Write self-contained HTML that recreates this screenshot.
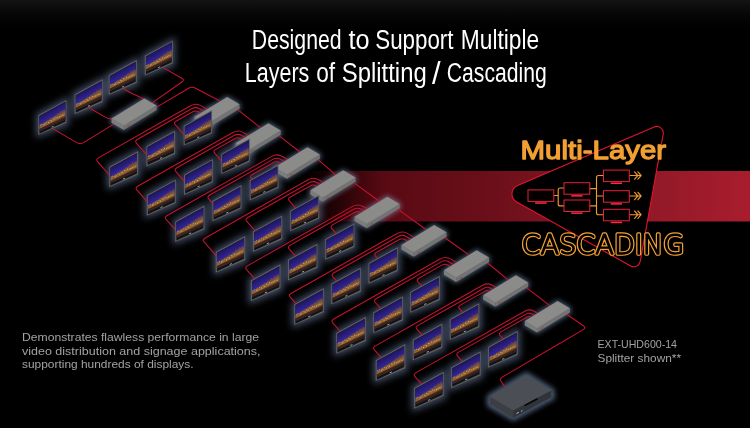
<!DOCTYPE html>
<html><head><meta charset="utf-8"><title>Multi-Layer Cascading</title>
<style>html,body{margin:0;padding:0;background:#000;}body{width:750px;height:428px;overflow:hidden}svg{display:block}</style>
</head><body>
<svg width="750" height="428" viewBox="0 0 750 428"><defs>
<linearGradient id="topg" x1="0" y1="0" x2="0" y2="1"><stop offset="0" stop-color="#131313"/><stop offset="0.3" stop-color="#0b0b0b"/><stop offset="0.6" stop-color="#050505"/><stop offset="1" stop-color="#000"/></linearGradient>
<linearGradient id="band" x1="0" y1="0" x2="1" y2="0">
<stop offset="0" stop-color="#56090f" stop-opacity="0"/>
<stop offset="0.045" stop-color="#56090f" stop-opacity="0.22"/>
<stop offset="0.10" stop-color="#56090f" stop-opacity="0.55"/>
<stop offset="0.18" stop-color="#580a13" stop-opacity="1"/>
<stop offset="0.42" stop-color="#6b0f1a"/>
<stop offset="0.73" stop-color="#8e1826"/>
<stop offset="1" stop-color="#a81d2e"/></linearGradient>
<linearGradient id="scr" gradientUnits="userSpaceOnUse" x1="-14" y1="8" x2="-4.4" y2="25.5">
<stop offset="0" stop-color="#1b1454"/><stop offset="0.35" stop-color="#2d218a"/><stop offset="0.62" stop-color="#3e30aa"/><stop offset="1" stop-color="#3e30aa"/></linearGradient>
<linearGradient id="city" gradientUnits="userSpaceOnUse" x1="-14" y1="8" x2="-4.4" y2="25.5">
<stop offset="0.36" stop-color="#4a3560"/><stop offset="0.50" stop-color="#7a523e"/><stop offset="0.62" stop-color="#98662e"/><stop offset="0.72" stop-color="#5c3a1f"/><stop offset="0.84" stop-color="#322012"/></linearGradient>
<linearGradient id="refl" gradientUnits="userSpaceOnUse" x1="-14" y1="8" x2="-4.4" y2="25.5">
<stop offset="0.74" stop-color="#3e2616"/><stop offset="0.84" stop-color="#2a1a12"/><stop offset="0.95" stop-color="#1b1210"/></linearGradient>
<filter id="gl" x="-20%" y="-20%" width="140%" height="140%"><feGaussianBlur stdDeviation="3.8"/></filter>
<filter id="gl2" x="-20%" y="-20%" width="140%" height="140%"><feGaussianBlur stdDeviation="2.8"/></filter>
<g id="dsp"><polygon points="-29.6,16.2 0,0 0,24.1 -29.6,37" fill="#5e5e5c"/><polygon points="-28.40,17.00 -1.10,2.00 -1.10,23.00 -28.40,35.60" fill="#121213"/><polygon points="-28.40,17.00 -1.10,2.00 -1.10,20.60 -28.40,32.80" fill="url(#scr)"/><polygon points="-28.40,27.43 -26.76,25.68 -25.12,25.37 -23.49,23.59 -21.57,23.15 -19.66,21.05 -18.03,20.91 -16.12,18.78 -14.20,18.52 -12.57,16.32 -10.93,16.20 -9.29,13.60 -7.65,14.03 -6.01,11.21 -4.65,11.97 -3.01,10.04 -1.10,10.37 -1.10,18.00 -28.40,30.59" fill="url(#city)"/><polygon points="-28.40,30.27 -1.10,17.62 -1.10,20.60 -28.40,32.80" fill="url(#refl)"/><rect x="-27.97" y="25.97" width="0.9" height="1.2" fill="#f0c878" opacity="0.61"/><rect x="-26.40" y="25.14" width="0.9" height="1.2" fill="#f0c878" opacity="0.61"/><rect x="-24.14" y="25.47" width="0.9" height="1.2" fill="#f0c878" opacity="0.76"/><rect x="-23.07" y="24.44" width="0.9" height="1.2" fill="#f0c878" opacity="0.56"/><rect x="-21.47" y="22.82" width="0.9" height="1.2" fill="#f0c878" opacity="0.54"/><rect x="-19.22" y="23.19" width="0.9" height="1.2" fill="#f0c878" opacity="0.77"/><rect x="-17.68" y="21.16" width="0.9" height="1.2" fill="#f0c878" opacity="0.57"/><rect x="-16.19" y="21.55" width="0.9" height="1.2" fill="#f0c878" opacity="0.79"/><rect x="-14.34" y="19.33" width="0.9" height="1.2" fill="#f0c878" opacity="0.69"/><rect x="-12.88" y="19.49" width="0.9" height="1.2" fill="#f0c878" opacity="0.52"/><rect x="-11.40" y="17.91" width="0.9" height="1.2" fill="#f0c878" opacity="0.82"/><rect x="-9.44" y="17.93" width="0.9" height="1.2" fill="#f0c878" opacity="0.57"/><rect x="-7.77" y="17.19" width="0.9" height="1.2" fill="#f0c878" opacity="0.80"/><rect x="-6.18" y="16.29" width="0.9" height="1.2" fill="#f0c878" opacity="0.62"/><rect x="-4.74" y="15.43" width="0.9" height="1.2" fill="#f0c878" opacity="0.51"/><rect x="-3.35" y="15.60" width="0.9" height="1.2" fill="#f0c878" opacity="0.47"/><path d="M-15.6,28.7 l2.2,-0.9" stroke="#c4c4c4" stroke-width="0.8"/></g>
<polygon id="dgl" points="-32,14.6 2.6,-3.8 2.6,26.8 -32,40.2"/>
</defs><rect width="750" height="428" fill="#000"/><rect width="750" height="28" fill="url(#topg)"/><rect x="302" y="171" width="448" height="50.5" fill="url(#band)"/><g filter="url(#gl)" fill="#7f95c2" opacity="0.5"><use href="#dgl" transform="translate(212.1,110.1) scale(0.96)"/><use href="#dgl" transform="translate(175.1,130.6) scale(0.968)"/><use href="#dgl" transform="translate(138.1,151.1) scale(0.976)"/><use href="#dgl" transform="translate(249.8,138.4) scale(0.965)"/><use href="#dgl" transform="translate(212.8,158.9) scale(0.973)"/><use href="#dgl" transform="translate(175.8,179.4) scale(0.981)"/><use href="#dgl" transform="translate(278.4,164.5) scale(0.97)"/><use href="#dgl" transform="translate(241.4,185.0) scale(0.978)"/><use href="#dgl" transform="translate(204.4,205.5) scale(0.986)"/><use href="#dgl" transform="translate(319.2,194.9) scale(0.98)"/><use href="#dgl" transform="translate(282.2,215.4) scale(0.988)"/><use href="#dgl" transform="translate(245.2,235.9) scale(0.996)"/><use href="#dgl" transform="translate(354.4,223.2) scale(0.985)"/><use href="#dgl" transform="translate(317.4,243.7) scale(0.993)"/><use href="#dgl" transform="translate(280.4,264.2) scale(1.0)"/><use href="#dgl" transform="translate(397.8,247.1) scale(0.99)"/><use href="#dgl" transform="translate(360.8,267.6) scale(0.998)"/><use href="#dgl" transform="translate(323.8,288.1) scale(1.0)"/><use href="#dgl" transform="translate(439.8,275.8) scale(1.0)"/><use href="#dgl" transform="translate(402.8,296.3) scale(1.0)"/><use href="#dgl" transform="translate(365.8,316.8) scale(1.0)"/><use href="#dgl" transform="translate(479.3,303.1) scale(1.0)"/><use href="#dgl" transform="translate(442.3,323.6) scale(1.0)"/><use href="#dgl" transform="translate(405.3,344.1) scale(1.0)"/><use href="#dgl" transform="translate(517.7,330.7) scale(1.0)"/><use href="#dgl" transform="translate(480.7,351.2) scale(1.0)"/><use href="#dgl" transform="translate(443.7,371.7) scale(1.0)"/><use href="#dgl" transform="translate(66.4,99.9) scale(0.95)"/><use href="#dgl" transform="translate(102.7,79.0) scale(0.95)"/><use href="#dgl" transform="translate(136.8,59.8) scale(0.95)"/><use href="#dgl" transform="translate(172.9,40.4) scale(0.95)"/></g><g filter="url(#gl2)" fill="#93b2e2" stroke="#93b2e2" stroke-width="2.5" stroke-linejoin="round" opacity="0.5"><polygon points="144.3,98.4 156.6,105.6 156.6,110.0 123.8,130.0 111.5,122.8 111.5,118.4" /><polygon points="227.2,97.1 239.5,104.3 239.5,108.7 206.7,128.7 194.4,121.5 194.4,117.1" /><polygon points="268.4,123.2 280.7,130.4 280.7,134.8 247.9,154.8 235.6,147.6 235.6,143.2" /><polygon points="307.5,147.2 319.8,154.4 319.8,158.8 287.0,178.8 274.7,171.6 274.7,167.2" /><polygon points="343.2,170.2 355.5,177.4 355.5,181.8 322.7,201.8 310.4,194.6 310.4,190.2" /><polygon points="387.3,196.7 399.6,203.9 399.6,208.3 366.8,228.3 354.5,221.1 354.5,216.7" /><polygon points="434.2,225.1 446.5,232.3 446.5,236.7 413.7,256.7 401.4,249.5 401.4,245.1" /><polygon points="476.7,250.3 489.0,257.5 489.0,261.9 456.2,281.9 443.9,274.7 443.9,270.3" /><polygon points="515.9,275.2 528.2,282.4 528.2,286.8 495.4,306.8 483.1,299.6 483.1,295.2" /><polygon points="557.6,301.0 569.9,308.2 569.9,312.6 537.1,332.6 524.8,325.4 524.8,321.0" /><polygon points="488.0,396.0 526.3,373.0 553.5,390.0 553.5,398.5 513.2,420.0 488.0,405.5" /></g><g fill="none" stroke="#c51230" stroke-width="1.08" stroke-linecap="round"><path d="M201.9,114.1L198.0,111.8Q195.4,110.2 192.8,111.7L176.0,121.2Q173.4,122.7 175.4,124.9L187.0,138.0"/><path d="M205.2,112.1L199.6,108.8Q195.7,106.5 191.7,108.7L137.2,139.5Q134.5,141.0 136.5,143.3L150.0,158.5"/><path d="M208.5,110.1L201.3,105.9Q196.0,102.7 190.6,105.8L98.3,157.9Q95.7,159.4 97.6,161.6L113.0,179.0"/><path d="M243.1,140.2L240.3,138.5Q237.7,137.0 235.1,138.5L215.4,149.6Q212.8,151.1 214.8,153.3L224.5,164.4"/><path d="M246.4,138.2L242.0,135.6Q238.0,133.2 234.0,135.5L176.5,168.0Q173.9,169.5 175.9,171.7L187.5,184.9"/><path d="M249.7,136.2L243.6,132.6Q238.3,129.5 232.9,132.5L137.6,186.3Q135.0,187.8 137.0,190.1L150.5,205.4"/><path d="M282.2,164.2L279.2,162.4Q276.6,160.8 274.0,162.3L252.0,174.7Q249.4,176.2 251.4,178.4L255.7,183.3"/><path d="M285.5,162.2L280.8,159.4Q276.8,157.1 272.8,159.4L209.4,195.2Q206.8,196.7 208.8,198.9L215.9,207.0"/><path d="M288.8,160.2L282.5,156.5Q277.1,153.3 271.7,156.4L166.8,215.7Q164.2,217.2 166.1,219.4L176.1,230.7"/><path d="M317.9,187.2L315.4,185.7Q313.0,184.3 310.5,185.7L290.0,197.2Q287.4,198.7 289.4,200.9L297.7,210.4"/><path d="M321.2,185.2L317.2,182.8Q313.2,180.5 309.2,182.8L247.4,217.7Q244.8,219.2 246.8,221.4L257.9,234.1"/><path d="M324.5,183.2L318.9,179.9Q313.5,176.7 308.1,179.8L204.8,238.2Q202.1,239.7 204.1,241.9L218.1,257.8"/><path d="M362.0,213.7L359.7,212.3Q357.3,210.9 355.0,212.2L332.5,224.9Q329.9,226.4 331.9,228.6L338.3,235.9"/><path d="M365.3,211.7L361.5,209.4Q357.6,207.1 353.7,209.3L289.9,245.4Q287.3,246.9 289.3,249.1L298.5,259.6"/><path d="M368.6,209.7L363.2,206.5Q357.9,203.4 352.5,206.4L247.3,265.9Q244.7,267.4 246.6,269.6L258.7,283.3"/><path d="M408.9,242.1L404.6,239.5Q402.0,238.0 399.4,239.5L376.2,252.5Q373.6,254.0 375.6,256.3L381.1,262.5"/><path d="M412.2,240.1L406.2,236.5Q402.2,234.2 398.2,236.5L333.6,273.0Q331.0,274.5 332.9,276.8L341.3,286.2"/><path d="M415.5,238.1L407.9,233.6Q402.5,230.5 397.1,233.5L290.9,293.5Q288.3,295.0 290.3,297.2L301.5,309.9"/><path d="M451.4,267.3L447.5,265.0Q444.9,263.4 442.3,264.9L418.7,278.2Q416.1,279.7 418.1,282.0L423.9,288.6"/><path d="M454.7,265.3L449.1,262.0Q445.2,259.7 441.2,261.9L376.1,298.7Q373.4,300.2 375.4,302.5L384.1,312.3"/><path d="M458.0,263.3L450.8,259.1Q445.5,255.9 440.1,259.0L333.4,319.2Q330.8,320.7 332.8,322.9L344.3,336.0"/><path d="M490.6,292.2L488.8,291.1Q487.0,290.0 485.1,291.1L460.3,305.1Q457.6,306.6 459.6,308.8L464.8,314.7"/><path d="M493.9,290.2L490.6,288.2Q487.2,286.3 483.9,288.2L417.6,325.6Q415.0,327.1 417.0,329.3L425.0,338.4"/><path d="M497.2,288.2L492.4,285.3Q487.5,282.5 482.6,285.3L375.0,346.1Q372.4,347.6 374.4,349.8L385.2,362.1"/><path d="M532.3,318.0L530.7,317.0Q529.0,316.0 527.3,317.0L500.9,331.9Q498.3,333.4 500.3,335.6L505.7,341.8"/><path d="M535.6,316.0L532.4,314.1Q529.3,312.3 526.1,314.1L458.3,352.4Q455.7,353.9 457.6,356.1L465.9,365.5"/><path d="M538.9,314.0L534.2,311.2Q529.6,308.5 524.9,311.2L415.6,372.9Q413.0,374.4 415.0,376.6L426.1,389.2"/><path d="M53.2,128.9L76.7,142.6Q80.1,144.7 83.6,142.6L115.8,122.9"/><path d="M89.5,108.0L105.6,117.4Q107.7,118.7 110.1,118.8L112.5,118.9"/><path d="M123.6,88.8L127.9,91.3Q130.5,92.8 133.2,94.1L147.3,100.4"/><path d="M162.3,67.1L181.8,78.3Q184.8,80.0 181.9,82.0L152.5,102.6"/><path d="M238.0,109.8L261.9,128.8"/><path d="M279.2,135.9L301.0,152.8"/><path d="M318.3,159.9L336.7,175.8"/><path d="M354.0,182.9L380.8,202.3"/><path d="M398.1,209.4L427.7,230.7"/><path d="M445.0,237.8L470.2,255.9"/><path d="M487.5,263.0L509.4,280.8"/><path d="M526.7,287.9L551.1,306.6"/><path d="M156.3,107.4L188.6,88.3Q192.0,86.3 195.5,88.2L219.5,100.8"/><path d="M567.4,314.7L583.4,325.8Q586.3,327.8 583.3,329.6L502.3,377.1Q499.3,378.9 501.3,381.8L505.3,387.5"/></g><polygon points="111.5,118.4 123.8,125.6 123.8,130.0 111.5,122.8" fill="#7d7d7b"/><polygon points="123.8,125.6 156.6,105.6 156.6,110.0 123.8,130.0" fill="#737371"/><polygon points="144.3,98.4 156.6,105.6 123.8,125.6 111.5,118.4" fill="#8b8b89"/><path d="M126.8,126.9l3.4,-2" stroke="#a03838" stroke-width="0.7"/><polygon points="194.4,117.1 206.7,124.3 206.7,128.7 194.4,121.5" fill="#7d7d7b"/><polygon points="206.7,124.3 239.5,104.3 239.5,108.7 206.7,128.7" fill="#737371"/><polygon points="227.2,97.1 239.5,104.3 206.7,124.3 194.4,117.1" fill="#8b8b89"/><path d="M209.7,125.6l3.4,-2" stroke="#a03838" stroke-width="0.7"/><polygon points="235.6,143.2 247.9,150.4 247.9,154.8 235.6,147.6" fill="#7d7d7b"/><polygon points="247.9,150.4 280.7,130.4 280.7,134.8 247.9,154.8" fill="#737371"/><polygon points="268.4,123.2 280.7,130.4 247.9,150.4 235.6,143.2" fill="#8b8b89"/><path d="M250.9,151.7l3.4,-2" stroke="#a03838" stroke-width="0.7"/><polygon points="274.7,167.2 287.0,174.4 287.0,178.8 274.7,171.6" fill="#7d7d7b"/><polygon points="287.0,174.4 319.8,154.4 319.8,158.8 287.0,178.8" fill="#737371"/><polygon points="307.5,147.2 319.8,154.4 287.0,174.4 274.7,167.2" fill="#8b8b89"/><path d="M290.0,175.7l3.4,-2" stroke="#a03838" stroke-width="0.7"/><polygon points="310.4,190.2 322.7,197.4 322.7,201.8 310.4,194.6" fill="#7d7d7b"/><polygon points="322.7,197.4 355.5,177.4 355.5,181.8 322.7,201.8" fill="#737371"/><polygon points="343.2,170.2 355.5,177.4 322.7,197.4 310.4,190.2" fill="#8b8b89"/><path d="M325.7,198.7l3.4,-2" stroke="#a03838" stroke-width="0.7"/><polygon points="354.5,216.7 366.8,223.9 366.8,228.3 354.5,221.1" fill="#7d7d7b"/><polygon points="366.8,223.9 399.6,203.9 399.6,208.3 366.8,228.3" fill="#737371"/><polygon points="387.3,196.7 399.6,203.9 366.8,223.9 354.5,216.7" fill="#8b8b89"/><path d="M369.8,225.2l3.4,-2" stroke="#a03838" stroke-width="0.7"/><polygon points="401.4,245.1 413.7,252.3 413.7,256.7 401.4,249.5" fill="#7d7d7b"/><polygon points="413.7,252.3 446.5,232.3 446.5,236.7 413.7,256.7" fill="#737371"/><polygon points="434.2,225.1 446.5,232.3 413.7,252.3 401.4,245.1" fill="#8b8b89"/><path d="M416.7,253.6l3.4,-2" stroke="#a03838" stroke-width="0.7"/><polygon points="443.9,270.3 456.2,277.5 456.2,281.9 443.9,274.7" fill="#7d7d7b"/><polygon points="456.2,277.5 489.0,257.5 489.0,261.9 456.2,281.9" fill="#737371"/><polygon points="476.7,250.3 489.0,257.5 456.2,277.5 443.9,270.3" fill="#8b8b89"/><path d="M459.2,278.8l3.4,-2" stroke="#a03838" stroke-width="0.7"/><polygon points="483.1,295.2 495.4,302.4 495.4,306.8 483.1,299.6" fill="#7d7d7b"/><polygon points="495.4,302.4 528.2,282.4 528.2,286.8 495.4,306.8" fill="#737371"/><polygon points="515.9,275.2 528.2,282.4 495.4,302.4 483.1,295.2" fill="#8b8b89"/><path d="M498.4,303.7l3.4,-2" stroke="#a03838" stroke-width="0.7"/><polygon points="524.8,321.0 537.1,328.2 537.1,332.6 524.8,325.4" fill="#7d7d7b"/><polygon points="537.1,328.2 569.9,308.2 569.9,312.6 537.1,332.6" fill="#737371"/><polygon points="557.6,301.0 569.9,308.2 537.1,328.2 524.8,321.0" fill="#8b8b89"/><path d="M540.1,329.5l3.4,-2" stroke="#a03838" stroke-width="0.7"/><use href="#dsp" transform="translate(172.9,40.4) scale(0.95)"/><use href="#dsp" transform="translate(136.8,59.8) scale(0.95)"/><use href="#dsp" transform="translate(102.7,79.0) scale(0.95)"/><use href="#dsp" transform="translate(66.4,99.9) scale(0.95)"/><use href="#dsp" transform="translate(212.1,110.1) scale(0.96)"/><use href="#dsp" transform="translate(175.1,130.6) scale(0.968)"/><use href="#dsp" transform="translate(249.8,138.4) scale(0.965)"/><use href="#dsp" transform="translate(138.1,151.1) scale(0.976)"/><use href="#dsp" transform="translate(212.8,158.9) scale(0.973)"/><use href="#dsp" transform="translate(278.4,164.5) scale(0.97)"/><use href="#dsp" transform="translate(175.8,179.4) scale(0.981)"/><use href="#dsp" transform="translate(241.4,185.0) scale(0.978)"/><use href="#dsp" transform="translate(319.2,194.9) scale(0.98)"/><use href="#dsp" transform="translate(204.4,205.5) scale(0.986)"/><use href="#dsp" transform="translate(282.2,215.4) scale(0.988)"/><use href="#dsp" transform="translate(354.4,223.2) scale(0.985)"/><use href="#dsp" transform="translate(245.2,235.9) scale(0.996)"/><use href="#dsp" transform="translate(317.4,243.7) scale(0.993)"/><use href="#dsp" transform="translate(397.8,247.1) scale(0.99)"/><use href="#dsp" transform="translate(280.4,264.2) scale(1.0)"/><use href="#dsp" transform="translate(360.8,267.6) scale(0.998)"/><use href="#dsp" transform="translate(439.8,275.8) scale(1.0)"/><use href="#dsp" transform="translate(323.8,288.1) scale(1.0)"/><use href="#dsp" transform="translate(402.8,296.3) scale(1.0)"/><use href="#dsp" transform="translate(479.3,303.1) scale(1.0)"/><use href="#dsp" transform="translate(365.8,316.8) scale(1.0)"/><use href="#dsp" transform="translate(442.3,323.6) scale(1.0)"/><use href="#dsp" transform="translate(517.7,330.7) scale(1.0)"/><use href="#dsp" transform="translate(405.3,344.1) scale(1.0)"/><use href="#dsp" transform="translate(480.7,351.2) scale(1.0)"/><use href="#dsp" transform="translate(443.7,371.7) scale(1.0)"/><polygon points="490.1,396.6 513.2,410.3 513.2,417.9 490.1,404.2" fill="#3b3e43"/><polygon points="513.2,410.3 551.4,390.2 551.4,397.2 513.2,417.9" fill="#303338"/><polygon points="490.1,396.6 526.3,375.1 551.4,390.2 513.2,410.3" fill="#4b4e54"/><path d="M524.5,405.6 l13,-6.8" stroke="#050505" stroke-width="1.6"/><path d="M516.5,413.6 l2.2,-1.2 M521,411.4 l1.4,-0.8" stroke="#c8c8c8" stroke-width="0.9"/><path d="M516.7,202.0A9.2,9.2 0 0 1 517.6,185.5L654.2,127.0A6.5,6.5 0 0 1 663.2,134.1L640.2,261.4A6.5,6.5 0 0 1 630.6,265.9Z" fill="#000" stroke="#e0142d" stroke-width="1.1"/><g fill="none" stroke="#ec9a2e" stroke-width="1.15" stroke-linejoin="round" stroke-linecap="round"><path d="M553.3,195.5 H558.2 M564,188 H560.2 Q558.2,188 558.2,190 V203.9 Q558.2,205.9 560.2,205.9 H564"/><path d="M590.1,188.6 H596.5 M590.1,205.9 H596.5 M603.5,175.5 H598.5 Q596.5,175.5 596.5,177.5 V212.7 Q596.5,214.7 598.5,214.7 H603.5 M596.5,196 H603.5"/><path d="M629.3,175.5 H640.5 M634.6,171.8 l3.2,3.7 l-3.2,3.7 M637.9,171.8 l3.2,3.7 l-3.2,3.7"/><path d="M629.3,196 H640.5 M634.6,192.3 l3.2,3.7 l-3.2,3.7 M637.9,192.3 l3.2,3.7 l-3.2,3.7"/><path d="M629.3,214.7 H640.5 M634.6,211.0 l3.2,3.7 l-3.2,3.7 M637.9,211.0 l3.2,3.7 l-3.2,3.7"/></g><rect x="528" y="189.9" width="25.8" height="11.5" fill="#050000" stroke="#e8203a" stroke-width="1"/><rect x="535.2" y="202.3" width="11.4" height="1.5" fill="#ff2a45"/><rect x="564" y="182.7" width="25.8" height="11.5" fill="#050000" stroke="#e8203a" stroke-width="1"/><rect x="571.2" y="195.1" width="11.4" height="1.5" fill="#ff2a45"/><rect x="564" y="200" width="25.8" height="11.5" fill="#050000" stroke="#e8203a" stroke-width="1"/><rect x="571.2" y="212.4" width="11.4" height="1.5" fill="#ff2a45"/><rect x="603.5" y="170.1" width="25.8" height="11.5" fill="#050000" stroke="#e8203a" stroke-width="1"/><rect x="610.7" y="182.5" width="11.4" height="1.5" fill="#ff2a45"/><rect x="603.5" y="190.7" width="25.8" height="11.5" fill="#050000" stroke="#e8203a" stroke-width="1"/><rect x="610.7" y="203.1" width="11.4" height="1.5" fill="#ff2a45"/><rect x="603.5" y="209.3" width="25.8" height="11.5" fill="#050000" stroke="#e8203a" stroke-width="1"/><rect x="610.7" y="221.70000000000002" width="11.4" height="1.5" fill="#ff2a45"/><g font-family="'Liberation Sans', sans-serif" fill="#fff" font-size="27"><text x="251.8" y="48.5" textLength="89.8" lengthAdjust="spacingAndGlyphs">Designed</text><text x="348.6" y="48.5" textLength="21.1" lengthAdjust="spacingAndGlyphs">to</text><text x="375.3" y="48.5" textLength="78.2" lengthAdjust="spacingAndGlyphs">Support</text><text x="460.8" y="48.5" textLength="78.4" lengthAdjust="spacingAndGlyphs">Multiple</text><text x="244.8" y="81.6" textLength="64.5" lengthAdjust="spacingAndGlyphs">Layers</text><text x="316.2" y="81.6" textLength="18.9" lengthAdjust="spacingAndGlyphs">of</text><text x="341.8" y="81.6" textLength="84.9" lengthAdjust="spacingAndGlyphs">Splitting</text><text x="432.0" y="84.39999999999999" font-size="31">/</text><text x="446.8" y="81.6" textLength="99.9" lengthAdjust="spacingAndGlyphs">Cascading</text></g><text font-family="'Liberation Sans', sans-serif" x="520.6" y="159.2" font-size="26.5" fill="#f2a033" stroke="#f2a033" stroke-width="1.3" stroke-linejoin="round" stroke-linecap="round" textLength="145.6" lengthAdjust="spacingAndGlyphs">Multi-Layer</text><g font-family="'DejaVu Sans Light', 'DejaVu Sans', 'Liberation Sans', sans-serif" font-size="27" font-weight="200" fill="none" stroke-linejoin="round" stroke-linecap="round"><text x="521.6" y="253.6" stroke="#f2a033" stroke-width="3.6" textLength="162.6" lengthAdjust="spacingAndGlyphs">CASCADING</text><text x="521.6" y="253.6" stroke="#000" fill="#000" stroke-width="1.25" textLength="162.6" lengthAdjust="spacingAndGlyphs">CASCADING</text></g><g font-family="'Liberation Sans', sans-serif" fill="#a2a2a2" font-size="11.3"><text x="22" y="340.9" textLength="237" lengthAdjust="spacingAndGlyphs">Demonstrates flawless performance in large</text><text x="22" y="354.5" textLength="238.5" lengthAdjust="spacingAndGlyphs">video distribution and signage applications,</text><text x="22" y="368" textLength="171.5" lengthAdjust="spacingAndGlyphs">supporting hundreds of displays.</text><text x="597.5" y="348.4" textLength="79.5" lengthAdjust="spacingAndGlyphs">EXT-UHD600-14</text><text x="597.5" y="362" textLength="83.5" lengthAdjust="spacingAndGlyphs">Splitter shown**</text></g></svg>
</body></html>
